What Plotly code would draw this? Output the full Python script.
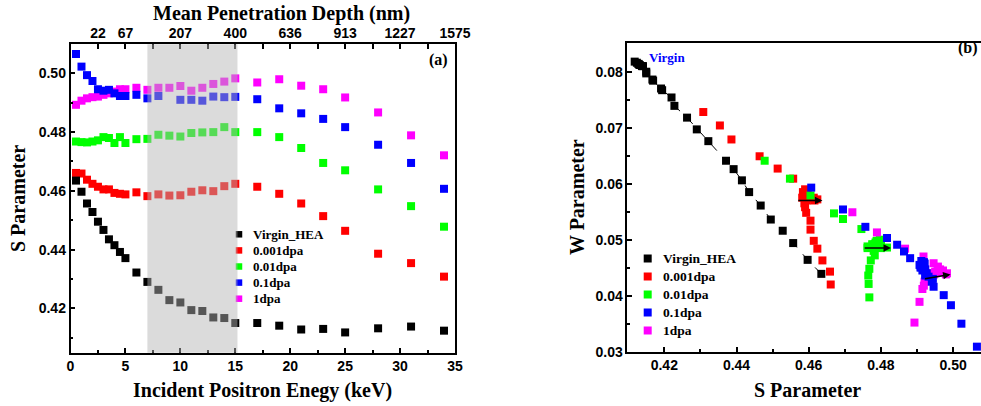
import plotly.graph_objects as go

# ---------------- data ----------------
energy_keV = [0.5, 1, 1.5, 2, 2.5, 3, 3.5, 4, 4.5, 5, 6, 7, 8, 9, 10, 11, 12, 13, 14, 15,
              17, 19, 21, 23, 25, 28, 31, 34]
series_names = ["Virgin_HEA", "0.001dpa", "0.01dpa", "0.1dpa", "1dpa"]
series_colors = ["#000000", "#ff0000", "#00ff00", "#0000ff", "#ff00ff"]

S_virgin = [0.4635, 0.4597, 0.4557, 0.4528, 0.4495, 0.4467, 0.4435, 0.4415, 0.4392, 0.4371,
            0.4322, 0.4290, 0.4263, 0.4228, 0.4220, 0.4194, 0.4191, 0.4169, 0.4167, 0.4150,
            0.4150, 0.4141, 0.4128, 0.4130, 0.4118, 0.4132, 0.4138, 0.4124]
S_0001 = [0.4661, 0.4659, 0.4638, 0.4624, 0.4614, 0.4605, 0.4605, 0.4593, 0.4590, 0.4588,
          0.4595, 0.4582, 0.4588, 0.4584, 0.4585, 0.4597, 0.4602, 0.4599, 0.4616, 0.4624,
          0.4614, 0.4590, 0.4557, 0.4514, 0.4464, 0.4386, 0.4354, 0.4308]
S_001 = [0.4768, 0.4766, 0.4765, 0.4768, 0.4772, 0.4783, 0.4780, 0.4763, 0.4783, 0.4763,
         0.4776, 0.4777, 0.4791, 0.4788, 0.4785, 0.4797, 0.4799, 0.4800, 0.4817, 0.4800,
         0.4800, 0.4783, 0.4746, 0.4695, 0.4670, 0.4605, 0.4548, 0.4478]
S_01 = [0.5066, 0.5023, 0.4994, 0.4974, 0.4946, 0.4941, 0.4944, 0.4932, 0.4923, 0.4923,
        0.4927, 0.4915, 0.4923, None, 0.4910, 0.4910, 0.4907, 0.4921, 0.4919, 0.4920,
        0.4912, 0.4881, 0.4864, 0.4845, 0.4817, 0.4757, 0.4695, 0.4607]
S_1 = [0.4893, 0.4907, 0.4915, 0.4919, 0.4921, 0.4927, 0.4932, 0.4938, 0.4946, 0.4946,
       0.4951, 0.4944, 0.4951, 0.4951, 0.4957, 0.4941, 0.4951, 0.4964, 0.4972, 0.4983,
       0.4969, 0.4980, 0.4958, 0.4946, 0.4918, 0.4867, 0.4789, 0.4721]

W_virgin = [0.0439, 0.0464, 0.0494, 0.0516, 0.0536, 0.0561, 0.0585, 0.0606, 0.0626, 0.0641,
            0.0676, 0.0697, 0.0718, 0.0739, 0.0754, 0.0767, 0.0770, 0.0784, 0.0786, 0.0797,
            0.0800, 0.0810, 0.0814, 0.0813, 0.0818, 0.0812, 0.0810, 0.0816]
W_0001 = [0.0420, 0.0443, 0.0463, 0.0484, 0.0498, 0.0518, 0.0534, 0.0548, 0.0558, 0.0565,
          0.0570, 0.0575, 0.0580, 0.0585, 0.0582, 0.0580, 0.0578, 0.0575, 0.0570, 0.0572,
          0.0575, 0.0590, 0.0609, 0.0627, 0.0649, 0.0679, 0.0704, 0.0728]
W_001 = [0.0397, 0.0421, 0.0436, 0.0448, 0.0463, 0.0472, 0.0480, 0.0485, 0.0490, 0.0488,
         0.0492, 0.0490, 0.0495, 0.0498, 0.0495, 0.0500, 0.0498, 0.0496, 0.0486, 0.0488,
         0.0485, 0.0492, 0.0519, 0.0537, 0.0547, 0.0579, 0.0609, 0.0641]
W_01 = [0.0309, 0.0350, 0.0383, 0.0401, 0.0416, 0.0425, 0.0430, 0.0434, 0.0436, 0.0438,
        0.0440, 0.0445, 0.0447, None, 0.0450, 0.0452, 0.0455, 0.0457, 0.0460, 0.0458,
        0.0462, 0.0467, 0.0479, 0.0491, 0.0503, 0.0523, 0.0554, 0.0593]
W_1 = [0.0352, 0.0389, 0.0412, 0.0418, 0.0425, 0.0430, 0.0433, 0.0436, 0.0438, 0.0438,
       0.0440, 0.0440, 0.0442, 0.0442, 0.0444, 0.0440, 0.0443, 0.0447, 0.0445, 0.0440,
       0.0442, 0.0438, 0.0452, 0.0458, 0.0470, 0.0484, 0.0513, 0.0549]

S_all = [S_virgin, S_0001, S_001, S_01, S_1]
W_all = [W_virgin, W_0001, W_001, W_01, W_1]

depth_tick_keV = [2.5, 5, 7.5, 10, 12.5, 15, 17.5, 20, 22.5, 25, 27.5, 30, 32.5, 35]
depth_tick_text = ["22", "67", "", "207", "", "400", "", "636", "", "913", "", "1227", "", "1575"]

shade_keV = [7, 15.2]

# arrows in panel (b): start S, start W, end S, end W
arrow_S0 = [0.4567, 0.4751, 0.4918]
arrow_W0 = [0.0570, 0.0485, 0.0430]
arrow_S1 = [0.4638, 0.4828, 0.4993]
arrow_W1 = [0.0570, 0.0485, 0.0438]

# ---------------- layout constants (pixels on the 981x406 canvas) ----------------
W_PX, H_PX = 981, 406
legendA = dict(sym_x=239, text_x=251, y0=234.3, dy=16.1, size=6.5, font=13)
legendB = dict(sym_x=647.7, text_x=661, y0=258.5, dy=18.0, size=8, font=13.5)

SERIF = "Liberation Serif"
SANS = "Liberation Sans"

fig = go.Figure()

# panel (a): draw in reverse so that black is on top
for i in reversed(range(5)):
    fig.add_trace(go.Scatter(
        x=energy_keV, y=S_all[i], mode="markers", name=series_names[i],
        marker=dict(symbol="square", size=8, color=series_colors[i], line=dict(width=0)),
        xaxis="x", yaxis="y", showlegend=False, cliponaxis=False))

# invisible trace for top depth axis
fig.add_trace(go.Scatter(x=[0, 35], y=[None, None], xaxis="x3", yaxis="y",
                         showlegend=False, hoverinfo="skip", mode="markers"))

# panel (b)
fig.add_trace(go.Scatter(
    x=S_virgin, y=W_virgin, mode="lines", showlegend=False,
    line=dict(color="black", width=1, dash="dash"), xaxis="x2", yaxis="y2", hoverinfo="skip"))
for i in [0, 1, 2, 4, 3]:
    fig.add_trace(go.Scatter(
        x=S_all[i], y=W_all[i], mode="markers", name=series_names[i],
        marker=dict(symbol="square", size=8, color=series_colors[i], line=dict(width=0)),
        xaxis="x2", yaxis="y2", showlegend=False, cliponaxis=False))

# legend keys drawn on a hidden full-canvas pixel axis
for lg in (legendA, legendB):
    fig.add_trace(go.Scatter(
        x=[lg["sym_x"]] * 5, y=[lg["y0"] + k * lg["dy"] for k in range(5)],
        mode="markers", marker=dict(symbol="square", size=lg["size"], color=series_colors,
                                    line=dict(width=0)),
        xaxis="x4", yaxis="y4", showlegend=False, hoverinfo="skip", cliponaxis=False))

axis_common = dict(showline=True, linecolor="black", linewidth=1.5, ticks="inside",
                   ticklen=5, tickwidth=1.5, tickcolor="black", showgrid=False, zeroline=False,
                   automargin=False,
                   tickfont=dict(family=SANS, size=14, color="black", weight="bold"))
minor_common = dict(ticks="inside", ticklen=3, tickcolor="black", tickwidth=1.5)

fig.update_layout(
    width=W_PX, height=H_PX,
    margin=dict(l=0, r=0, t=0, b=0, pad=0, autoexpand=False),
    plot_bgcolor="rgba(0,0,0,0)", paper_bgcolor="white",
    showlegend=False,
    xaxis=dict(domain=[70.5 / W_PX, 455 / W_PX], range=[0, 35], anchor="y", mirror=True,
               tickvals=[0, 5, 10, 15, 20, 25, 30, 35],
               minor=dict(tickvals=[2.5, 7.5, 12.5, 17.5, 22.5, 27.5, 32.5], **minor_common),
               **axis_common),
    xaxis3=dict(overlaying="x", side="top", anchor="y", range=[0, 35],
                tickvals=depth_tick_keV, ticktext=depth_tick_text,
                showline=False, ticks="inside", ticklen=5, tickwidth=1.5, tickcolor="black",
                showgrid=False, zeroline=False, ticklabelstandoff=3, automargin=False,
                tickfont=dict(family=SANS, size=14, color="black", weight="bold")),
    yaxis=dict(domain=[1 - 352.7 / H_PX, 1 - 44.3 / H_PX], range=[0.4049, 0.5099],
               anchor="x", mirror=True,
               tickvals=[0.42, 0.44, 0.46, 0.48, 0.50], tickformat=".2f",
               minor=dict(tickvals=[0.41, 0.43, 0.45, 0.47, 0.49], **minor_common),
               **axis_common),
    xaxis2=dict(domain=[627.3 / W_PX, 1.0], range=[0.40975, 0.50773], anchor="y2", mirror=True,
                tickvals=[0.42, 0.44, 0.46, 0.48, 0.50], tickformat=".2f",
                minor=dict(tickvals=[0.41, 0.43, 0.45, 0.47, 0.49], **minor_common),
                **axis_common),
    yaxis2=dict(domain=[1 - 351.7 / H_PX, 1 - 42.7 / H_PX], range=[0.03, 0.08518],
                anchor="x2", mirror=False,
                tickvals=[0.03, 0.04, 0.05, 0.06, 0.07, 0.08], tickformat=".2f",
                minor=dict(tickvals=[0.035, 0.045, 0.055, 0.065, 0.075], **minor_common),
                **axis_common),
    xaxis4=dict(domain=[0, 1], range=[0, W_PX], visible=False, anchor="y4",
                fixedrange=True, automargin=False),
    yaxis4=dict(domain=[0, 1], range=[H_PX, 0], visible=False, anchor="x4",
                fixedrange=True, automargin=False),
)

# shaded region (drawn above markers, semi-transparent)
fig.add_shape(type="rect", xref="x", yref="y domain", x0=shade_keV[0], x1=shade_keV[1],
              y0=0, y1=1, fillcolor="rgba(180,180,180,0.48)", line=dict(width=0), layer="above")

title_font = dict(family=SERIF, size=20, color="black", weight="bold")
ann = [
    dict(text="Mean Penetration Depth (nm)", x=281, y=13.5, font=title_font),
    dict(text="Incident Positron Enegy (keV)", x=262, y=390, font=title_font),
    dict(text="S Parameter", x=18, y=199, font=title_font, textangle=-90),
    dict(text="W Parameter", x=577, y=197, font=title_font, textangle=-90),
    dict(text="S Parameter", x=807, y=390, font=title_font),
    dict(text="(a)", x=438, y=60, font=dict(family=SERIF, size=16, color="black", weight="bold")),
    dict(text="(b)", x=980, y=48, xanchor="right",
         font=dict(family=SERIF, size=16, color="black", weight="bold")),
    dict(text="Virgin", x=667, y=57, font=dict(family=SERIF, size=13, color="#0000ff", weight="bold")),
]
for lg in (legendA, legendB):
    for k, nm in enumerate(series_names):
        ann.append(dict(text=nm, x=lg["text_x"], y=lg["y0"] + k * lg["dy"], xanchor="left",
                        font=dict(family=SERIF, size=lg["font"], color="black", weight="bold")))
for a in ann:
    a.setdefault("xanchor", "center")
    fig.add_annotation(xref="paper", yref="paper", x=a.pop("x") / W_PX, y=1 - a.pop("y") / H_PX,
                       yanchor="middle", showarrow=False, **a)

for s0, w0, s1, w1 in zip(arrow_S0, arrow_W0, arrow_S1, arrow_W1):
    fig.add_annotation(x=s1, y=w1, ax=s0, ay=w0, xref="x2", yref="y2", axref="x2", ayref="y2",
                       showarrow=True, arrowhead=2, arrowsize=1, arrowwidth=1.5,
                       arrowcolor="black", text="")

# remove the browser's default 8px body margin so the figure sits at the window origin
fig.write_html("out.html", config={"displayModeBar": False},
               post_script="document.body.style.margin='0';document.body.style.overflow='hidden';")
